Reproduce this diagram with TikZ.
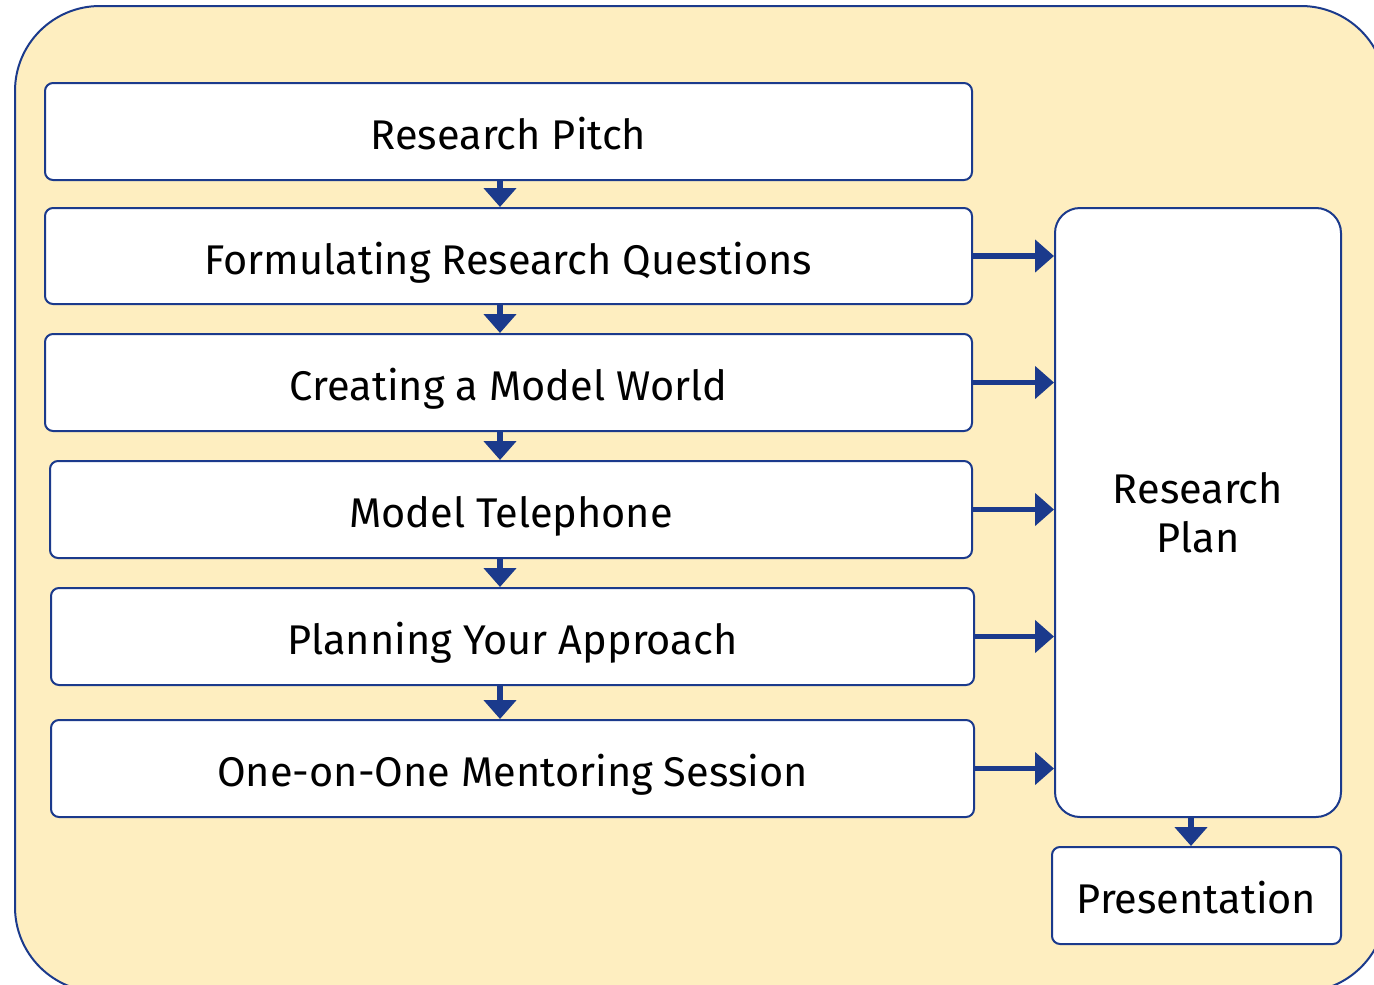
\documentclass[tikz,border=0pt]{standalone}
\usepackage{fontspec}
\setmainfont{Fira Sans}
\usetikzlibrary{arrows.meta}
\definecolor{bgyellow}{HTML}{FEEEC0}
\definecolor{navy}{HTML}{1B3A8C}
\tikzset{
  stepbox/.style={draw=navy, line width=2pt, fill=white, rounded corners=8pt, inner sep=0pt, font=\fontsize{41.5}{49}\selectfont, text=black},
  oneline/.style={text height=40pt, text depth=4pt},
  arr/.style={draw=navy, line width=5.5pt, -{Triangle[width=32pt,length=19pt]}, shorten >=0pt},
}
\begin{document}
\begin{tikzpicture}[x=1pt,y=-1pt]
\useasboundingbox (0,0) rectangle (1374,985);
\clip (0,0) rectangle (1374,985);
\draw[navy, line width=2pt, fill=bgyellow, rounded corners=85pt] (15,6) rectangle (1386,992);
\node[stepbox, oneline, minimum width=927pt, minimum height=97pt] (b1) at (508.5,131.5) {Research Pitch};
\node[stepbox, oneline, minimum width=927pt, minimum height=96pt] (b2) at (508.5,256) {Formulating Research Questions};
\node[stepbox, oneline, minimum width=927pt, minimum height=97pt] (b3) at (508.5,382.5) {Creating a Model World};
\node[stepbox, oneline, minimum width=922pt, minimum height=97pt] (b4) at (511,509.5) {Model Telephone};
\node[stepbox, oneline, minimum width=923pt, minimum height=97pt] (b5) at (512.5,636.5) {Planning Your Approach};
\node[stepbox, oneline, minimum width=923pt, minimum height=97pt] (b6) at (512.5,768.5) {One-on-One Mentoring Session};
\node[stepbox, rounded corners=25pt, minimum width=286pt, minimum height=609pt, align=center] (plan) at (1198,512.5) {Research\\Plan};
\node[stepbox, oneline, minimum width=289pt, minimum height=97pt] (pres) at (1196.5,895.5) {Presentation};
\coordinate (xl) at (500,0);
\coordinate (xp) at (1191,0);
\draw[arr] (b1.south -| xl) -- (b2.north -| xl);
\draw[arr] (b2.south -| xl) -- (b3.north -| xl);
\draw[arr] (b3.south -| xl) -- (b4.north -| xl);
\draw[arr] (b4.south -| xl) -- (b5.north -| xl);
\draw[arr] (b5.south -| xl) -- (b6.north -| xl);
\draw[arr] (plan.south -| xp) -- (pres.north -| xp);
\draw[arr] (b2.east) -- (b2.east -| plan.west);
\draw[arr] (b3.east) -- (b3.east -| plan.west);
\draw[arr] (b4.east) -- (b4.east -| plan.west);
\draw[arr] (b5.east) -- (b5.east -| plan.west);
\draw[arr] (b6.east) -- (b6.east -| plan.west);
\end{tikzpicture}
\end{document}
